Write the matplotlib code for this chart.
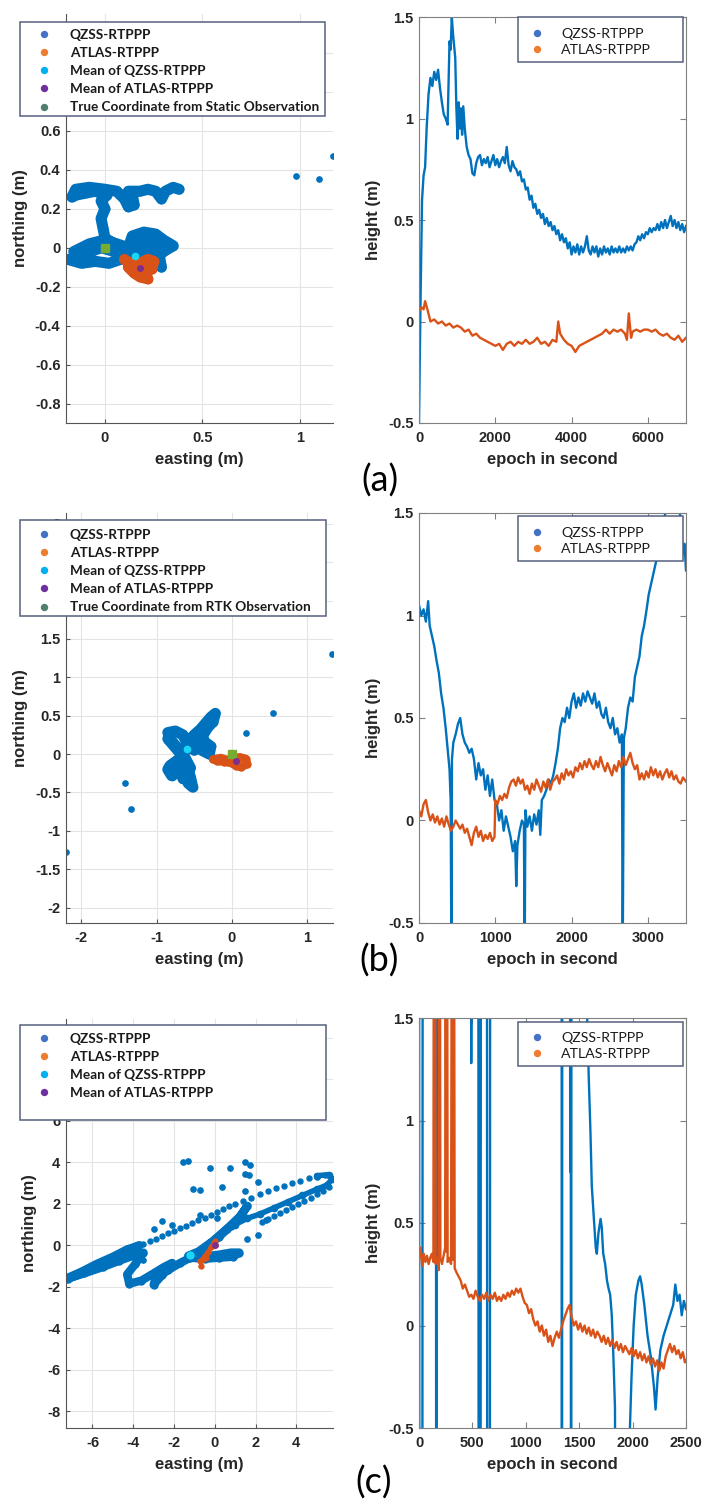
import numpy as np
import matplotlib
matplotlib.use('Agg')
import matplotlib.pyplot as plt
from matplotlib.lines import Line2D
from matplotlib.patches import Rectangle

plt.rcParams['font.family'] = ['Liberation Sans', 'DejaVu Sans']

W, H = 706, 1500
BLUE = '#0072BD'
ORANGE = '#D95319'
CYAN = '#19D8F7'
PURPLE = '#7E2F8E'
GREEN = '#77AC30'

# ---------------- panel (a) ----------------
# horizontal scatter (easting, northing)
a_qzss_e = [-0.19, -0.12, -0.05, 0.02, 0.08, 0.05, -0.02, -0.10, -0.16, -0.08, 0.00, 0.06, 0.12, 0.14, 0.20,
            0.26, 0.30, 0.35, 0.30, 0.24, 0.18, 0.16, 0.22, 0.28, 0.29, 0.24, 0.18, 0.12, 0.06, 0.00,
            -0.01, -0.02, 0.00, -0.02, 0.01, -0.05, -0.10, -0.15, -0.17, -0.15, -0.08, 0.00, 0.06, 0.10,
            0.12, 0.15, 0.14, 0.12, 0.18, 0.22, 0.26, 0.29, 0.31, 0.35, 0.38]
a_qzss_n = [-0.06, -0.08, -0.07, -0.08, -0.06, -0.02, 0.00, -0.03, -0.02, 0.02, 0.04, 0.02, 0.00, 0.06, 0.08,
            0.07, 0.04, 0.01, -0.02, 0.02, 0.03, -0.02, -0.03, -0.05, -0.10, -0.06, -0.04, -0.03, 0.01, 0.05,
            0.10, 0.15, 0.20, 0.24, 0.27, 0.29, 0.28, 0.27, 0.26, 0.30, 0.31, 0.30, 0.29, 0.25,
            0.21, 0.22, 0.27, 0.29, 0.29, 0.30, 0.29, 0.25, 0.29, 0.31, 0.30]
a_out_e = [0.98, 1.10, 1.17]
a_out_n = [0.37, 0.355, 0.47]
a_atlas_e = [0.10, 0.14, 0.18, 0.22, 0.25, 0.24, 0.20, 0.22, 0.18, 0.15, 0.12, 0.16, 0.20, 0.17, 0.13]
a_atlas_n = [-0.06, -0.09, -0.08, -0.06, -0.07, -0.11, -0.12, -0.16, -0.15, -0.13, -0.10, -0.10, -0.09,
             -0.12, -0.08]
a_mean_qzss = (0.155, -0.04)
a_mean_atlas = (0.18, -0.105)
a_true = (0.0, 0.0)

# height time series
a_qzss_t = [0, 40, 80, 120, 160, 200, 250, 300, 350, 400, 450, 500, 550, 600, 650, 700, 750, 800, 830, 860,
            890, 920, 950, 980, 1010, 1040, 1070, 1100, 1130, 1160, 1200,
            1250, 1300, 1350, 1400, 1450, 1500, 1550, 1600, 1650, 1700, 1750, 1800, 1850, 1900, 1950, 2000,
            2050, 2100, 2150, 2200, 2250, 2300, 2350, 2400, 2450, 2500, 2550, 2600, 2650, 2700, 2750, 2800,
            2850, 2900, 2950, 3000, 3050, 3100, 3150, 3200, 3250, 3300, 3350, 3400, 3450, 3500, 3550, 3600,
            3650, 3700, 3750, 3800, 3850, 3900, 3950, 4000, 4050, 4100, 4150, 4200, 4250, 4300, 4350, 4400,
            4450, 4500, 4550, 4600, 4650, 4700, 4750, 4800, 4850, 4900, 4950, 5000, 5050, 5100, 5150, 5200,
            5250, 5300, 5350, 5400, 5450, 5500, 5550, 5600, 5650, 5700, 5750, 5800, 5850, 5900, 5950, 6000,
            6050, 6100, 6150, 6200, 6250, 6300, 6350, 6400, 6450, 6500, 6550, 6600, 6650, 6700, 6750, 6800,
            6850, 6900, 6950, 7000]
a_qzss_h = [-0.5, 0.1, 0.6, 0.72, 0.76, 0.95, 1.12, 1.2, 1.16, 1.23, 1.19, 1.24, 1.15, 1.08, 1.02, 1.0, 0.97,
            1.38, 1.34, 1.5, 1.42, 1.36, 1.3, 1.05, 0.9, 1.08, 0.95, 1.05, 0.92, 1.06, 0.95,
            0.86, 0.82, 0.8, 0.73, 0.72, 0.78, 0.81, 0.82, 0.77, 0.8, 0.78, 0.81, 0.76, 0.79, 0.82, 0.77,
            0.8, 0.76, 0.79, 0.81, 0.78, 0.86, 0.77, 0.74, 0.79, 0.76, 0.75, 0.72, 0.74, 0.69, 0.7, 0.65,
            0.66, 0.6, 0.62, 0.56, 0.58, 0.53, 0.55, 0.51, 0.53, 0.48, 0.51, 0.47, 0.49, 0.45, 0.47, 0.43,
            0.45, 0.4, 0.43, 0.39, 0.41, 0.36, 0.39, 0.33, 0.37, 0.34, 0.38, 0.33, 0.37, 0.34, 0.37, 0.42,
            0.35, 0.33, 0.37, 0.34, 0.37, 0.32, 0.36, 0.33, 0.37, 0.34, 0.36, 0.33, 0.37, 0.34, 0.36, 0.34,
            0.37, 0.34, 0.36, 0.34, 0.37, 0.35, 0.37, 0.35, 0.38, 0.39, 0.42, 0.4, 0.43, 0.41, 0.44, 0.43,
            0.46, 0.44, 0.46, 0.45, 0.48, 0.45, 0.49, 0.46, 0.5, 0.46, 0.49, 0.52, 0.47, 0.5, 0.46, 0.49,
            0.45, 0.48, 0.44, 0.47]
a_atlas_t = [0, 60, 120, 160, 220, 300, 400, 500, 600, 700, 800, 900, 1000, 1100, 1200, 1300, 1400, 1500,
             1600, 1700, 1800, 1900, 2000, 2100, 2200, 2300, 2400, 2500, 2600, 2700, 2800, 2900, 3000, 3100,
             3200, 3300, 3400, 3500, 3600, 3650, 3700, 3800, 3900, 4000, 4100, 4200, 4300, 4400, 4500, 4600,
             4700, 4800, 4900, 5000, 5100, 5200, 5300, 5400, 5450, 5500, 5560, 5600, 5700, 5800, 5900, 6000,
             6100, 6200, 6300, 6400, 6500, 6600, 6700, 6800, 6900, 7000]
a_atlas_h = [0.05, 0.07, 0.06, 0.1, 0.06, 0.0, 0.01, -0.01, 0.0, -0.02, -0.01, -0.03, -0.02, -0.03, -0.05,
             -0.04, -0.07, -0.06, -0.08, -0.09, -0.1, -0.11, -0.12, -0.11, -0.14, -0.11, -0.1, -0.12, -0.1,
             -0.11, -0.09, -0.11, -0.1, -0.08, -0.11, -0.1, -0.12, -0.09, -0.1, 0.0, -0.06, -0.09, -0.11,
             -0.12, -0.15, -0.12, -0.11, -0.1, -0.09, -0.08, -0.07, -0.06, -0.04, -0.06, -0.04, -0.05, -0.04,
             -0.06, -0.09, 0.04, -0.08, -0.05, -0.04, -0.05, -0.04, -0.04, -0.05, -0.04, -0.06, -0.07, -0.06,
             -0.08, -0.09, -0.07, -0.1, -0.08]

# ---------------- panel (b) ----------------
b_qzss_e = [-0.85, -0.75, -0.65, -0.60, -0.50, -0.42, -0.35, -0.28, -0.22, -0.25, -0.32, -0.40, -0.35, -0.28,
            -0.30, -0.40, -0.45, -0.50, -0.55, -0.62, -0.68, -0.75, -0.82, -0.85, -0.80, -0.75, -0.72, -0.68,
            -0.65, -0.60, -0.58, -0.52, -0.55, -0.60, -0.70, -0.78, -0.85, -0.72, -0.62, -0.55, -0.62, -0.72]
b_qzss_n = [0.28, 0.30, 0.25, 0.15, 0.25, 0.32, 0.40, 0.48, 0.53, 0.42, 0.35, 0.22, 0.15, 0.10,
            0.00, 0.05, 0.15, 0.05, 0.10, 0.05, -0.05, -0.10, -0.15, -0.20, -0.28, -0.25, -0.10, -0.20,
            -0.32, -0.28, -0.38, -0.43, -0.30, -0.15, 0.05, 0.15, 0.20, 0.05, -0.05, -0.18, -0.25, -0.15]
b_out_e = [1.33, 0.55, 0.18, -1.42, -1.34, -2.2]
b_out_n = [1.31, 0.53, 0.27, -0.38, -0.72, -1.28]
b_atlas_e = [-0.25, -0.15, -0.05, 0.0, 0.05, 0.10, 0.18, 0.20, 0.12, 0.05, 0.0, -0.10, -0.20]
b_atlas_n = [-0.07, -0.05, -0.08, -0.05, -0.10, -0.04, -0.06, -0.13, -0.17, -0.15, -0.12, -0.10, -0.09]
b_mean_qzss = (-0.6, 0.06)
b_mean_atlas = (0.05, -0.09)
b_true = (0.0, 0.0)

b_qzss_t = [0, 30, 60, 90, 120, 140, 170, 200, 230, 260, 290, 320, 350, 380, 400, 415, 425, 432, 450, 480,
            510, 540, 570, 600, 630, 660, 690, 720, 750, 780, 810, 840, 870, 900, 930, 960, 990, 1020, 1050,
            1080, 1110, 1140, 1170, 1200, 1230, 1260, 1275, 1290, 1320, 1350, 1375, 1385, 1395, 1420, 1450,
            1480, 1510, 1540, 1570, 1590, 1610, 1640, 1670, 1700, 1730, 1760, 1790, 1820, 1850, 1880, 1910,
            1940, 1970, 2000, 2030, 2060, 2090, 2120, 2150, 2180, 2210, 2240, 2270, 2300, 2330, 2360, 2390,
            2420, 2450, 2480, 2510, 2540, 2570, 2600, 2630, 2660, 2670, 2685, 2710, 2740, 2770, 2800, 2830,
            2860, 2890, 2920, 2950, 2980, 3010, 3040, 3070, 3100, 3130, 3160, 3190, 3220, 3250, 3300, 3350,
            3400, 3430, 3460, 3480, 3500]
b_qzss_h = [1.05, 1.0, 1.03, 0.97, 1.07, 0.95, 0.9, 0.85, 0.78, 0.72, 0.62, 0.55, 0.45, 0.33, 0.25, 0.1, -0.7,
            0.3, 0.38, 0.42, 0.47, 0.5, 0.42, 0.38, 0.36, 0.33, 0.35, 0.3, 0.2, 0.28, 0.22, 0.25, 0.15, 0.22,
            0.12, 0.2, 0.1, 0.08, 0.0, 0.05, -0.05, 0.02, -0.03, -0.08, -0.15, -0.1, -0.32, -0.12, -0.05, 0.0,
            -0.02, -0.7, 0.05, -0.03, 0.02, -0.05, 0.03, -0.02, 0.05, -0.07, 0.1, 0.12, 0.15, 0.2, 0.18, 0.22,
            0.28, 0.35, 0.45, 0.5, 0.48, 0.55, 0.5, 0.58, 0.62, 0.55, 0.6, 0.56, 0.62, 0.58, 0.63, 0.6, 0.57,
            0.62, 0.55, 0.58, 0.52, 0.5, 0.55, 0.48, 0.45, 0.5, 0.42, 0.45, 0.38, 0.42, -0.7, 0.4, 0.45, 0.55,
            0.6, 0.58, 0.7, 0.75, 0.8, 0.9, 0.95, 1.02, 1.1, 1.15, 1.2, 1.25, 1.3, 1.35, 1.4, 1.48, 1.55, 1.6,
            1.55, 1.6, 1.45, 1.3, 1.35, 1.22]
b_atlas_t = [0, 30, 60, 90, 120, 150, 180, 210, 240, 270, 300, 330, 360, 390, 420, 450, 480, 510, 540, 570,
             600, 630, 660, 690, 720, 750, 780, 810, 840, 870, 900, 930, 960, 990, 1000, 1030, 1060, 1090,
             1120, 1150, 1180, 1210, 1240, 1270, 1300, 1330, 1360, 1390, 1420, 1450, 1480, 1510, 1540, 1570,
             1600, 1630, 1660, 1690, 1720, 1750, 1780, 1810, 1840, 1870, 1900, 1930, 1960, 1990, 2020, 2050,
             2080, 2110, 2140, 2170, 2200, 2230, 2260, 2290, 2320, 2350, 2380, 2410, 2440, 2470, 2500, 2530,
             2560, 2590, 2620, 2650, 2680, 2710, 2740, 2770, 2800, 2830, 2860, 2890, 2920, 2950, 2980, 3010,
             3040, 3070, 3100, 3130, 3160, 3190, 3220, 3250, 3280, 3310, 3340, 3370, 3400, 3430, 3460, 3500]
b_atlas_h = [0.05, 0.02, 0.08, 0.1, 0.04, 0.0, 0.03, -0.01, 0.02, -0.02, 0.01, -0.03, 0.02, -0.02, -0.05,
             -0.03, 0.0, -0.02, -0.04, -0.02, -0.06, -0.04, -0.08, -0.12, -0.06, -0.03, -0.08, -0.05, -0.1,
             -0.07, -0.09, -0.06, -0.1, -0.08, 0.1, 0.08, 0.12, 0.1, 0.13, 0.11, 0.16, 0.19, 0.2, 0.17, 0.21,
             0.18, 0.2, 0.15, 0.17, 0.13, 0.18, 0.15, 0.2, 0.17, 0.14, 0.19, 0.16, 0.2, 0.15, 0.19, 0.2, 0.22,
             0.18, 0.23, 0.2, 0.25, 0.22, 0.24, 0.21, 0.26, 0.24, 0.28, 0.25, 0.29, 0.26, 0.3, 0.27, 0.25,
             0.29, 0.26, 0.31, 0.27, 0.24, 0.28, 0.25, 0.22, 0.27, 0.24, 0.29, 0.26, 0.31, 0.27, 0.3, 0.33,
             0.28, 0.25, 0.27, 0.2, 0.23, 0.2, 0.24, 0.21, 0.26, 0.22, 0.25, 0.21, 0.24, 0.2, 0.23, 0.25,
             0.21, 0.24, 0.2, 0.22, 0.19, 0.18, 0.21, 0.19]

# ---------------- panel (c) ----------------
c_track_e = [-7.3, -6.6, -5.8, -5.0, -4.3, -3.7, -4.4, -5.2, -6.0, -6.8, -7.2, -6.4, -5.5, -4.7, -4.0, -3.5,
             -3.9, -4.3, -4.2, -3.6, -3.0, -2.5, -2.1, -2.6, -3.0, -2.9, -2.3, -1.7, -1.1, -0.5, 0.2, 0.8,
             1.3, 1.6, 1.2, 0.6, -0.1, -0.8, -1.3, -0.6, 0.2, 0.8, 1.2, 0.9, 0.2, -0.5, -1.2]
c_track_n = [-1.6, -1.3, -0.9, -0.55, -0.2, 0.0, -0.35, -0.75, -1.1, -1.45, -1.6, -1.35, -1.05, -0.75, -0.5,
             -0.35, -0.9, -1.4, -1.85, -1.7, -1.35, -1.05, -0.85, -1.45, -1.9, -1.6, -1.2, -0.85, -0.55,
             -0.15, 0.4, 0.95, 1.45, 1.9, 1.35, 0.8, 0.2, -0.3, -0.5, -0.55, -0.45, -0.35, -0.35, -0.55,
             -0.6, -0.65, -0.6]
c_loop_e = [1.0, 1.6, 2.2, 2.9, 3.6, 4.3, 5.0, 5.5, 5.77, 5.6, 5.0]
c_loop_n = [1.0, 1.3, 1.5, 1.8, 2.1, 2.4, 2.7, 2.9, 3.2, 3.4, 3.35]
c_dots_e = [-3.5, -3.2, -2.9, -2.6, -2.3, -2.0, -1.7, -1.4, -1.1, -0.8, -0.5, -0.2, 0.1, 0.4, 0.7, 1.0,
            1.4, 1.8, 2.2, 2.6, 3.0, 3.4, 3.8, 4.2, 4.6, 5.0, 5.4,
            2.3, 2.6, 2.9, 3.2, 3.5, 3.8, 4.1, 4.4, 4.7, 5.0, 5.3, 5.6]
c_dots_n = [0.05, 0.2, 0.32, 0.45, 0.58, 0.7, 0.82, 0.95, 1.08, 1.2, 1.33, 1.47, 1.6, 1.75, 1.88, 2.0,
            2.15, 2.3, 2.45, 2.6, 2.75, 2.88, 3.0, 3.12, 3.22, 3.3, 3.38,
            1.1, 1.25, 1.4, 1.55, 1.7, 1.85, 2.0, 2.15, 2.3, 2.45, 2.6, 2.8]
c_out_e = [-1.55, -1.3, -1.07, -0.75, 0.37, -0.24, 0.73, 1.5, 1.75, 1.5, 1.7, 2.1, 1.5, -2.6, -2.97, -3.5,
           2.1, 2.5, 1.6, -0.75, 0.1, -2.1]
c_out_n = [4.0, 4.05, 2.7, 2.65, 2.8, 3.7, 3.7, 4.0, 3.85, 3.45, 3.4, 3.05, 2.6, 1.15, 0.8, -0.7,
           0.5, 1.2, 0.3, 1.45, 1.3, 1.0]
c_atlas_e = [-0.7, -0.65, -0.5, -0.35, -0.2, -0.05, 0.0, -0.1, -0.45, -0.75]
c_atlas_n = [-1.0, -0.7, -0.5, -0.3, -0.1, 0.1, 0.2, 0.0, -0.6, -0.75]
c_mean_qzss = (-1.22, -0.45)
c_mean_atlas = (0.0, 0.0)

# values far outside the plotted range produce the vertical spikes
c_qzss_t = [0, 5, 30, 35, 158, 162, 166, 485, 489, 493, 555, 560, 575, 580, 636, 640, 662, 667, 1335, 1338,
            1342, 1412, 1416, 1420, 1424, 1428, 1565, 1575, 1590, 1605, 1618, 1640, 1655, 1665, 1680, 1700,
            1711, 1725, 1743, 1760, 1775, 1790, 1805, 1820, 1835, 1850, 1960, 1975, 1990, 2010, 2030, 2055,
            2070, 2085, 2110, 2140, 2170, 2200, 2215, 2235, 2260, 2290, 2320, 2350, 2380, 2400, 2420, 2440,
            2460, 2480, 2500]
c_qzss_h = [3, -3, -3, 3, 3, -3, 3, 3, 1.28, 3, 3, -3, -3, 3, 3, -3, -3, 3, 3, -3,
            3, 3, 0.75, 3, -3, 3, 3, 1.5, 1.2, 0.95, 0.68, 0.5, 0.38, 0.35, 0.45, 0.52,
            0.48, 0.35, 0.3, 0.22, 0.18, 0.15, 0.05, -0.15, -0.4, -3, -3, -0.5, -0.25, 0.0, 0.15, 0.22,
            0.24, 0.2, 0.1, -0.05, -0.15, -0.3, -0.41, -0.25, -0.12, -0.05, 0.0, 0.05, 0.1, 0.2, 0.12, 0.15,
            0.05, 0.12, 0.08]
c_atlas_t = [0, 15, 30, 45, 60, 75, 90, 105, 120, 135, 140, 145, 150, 156, 170, 185, 195, 200, 215, 230, 245,
             250, 256, 262, 268, 285, 300, 310, 318, 326, 334, 350, 370, 390, 410, 430, 450, 470, 490, 510,
             530, 550, 570, 590, 610, 630, 650, 670, 690, 710, 730, 750, 770, 790, 810, 830, 850, 870, 890,
             910, 930, 950, 970, 990, 1010, 1030, 1050, 1070, 1090, 1110, 1130, 1150, 1170, 1190, 1210, 1230,
             1250, 1270, 1290, 1310, 1330, 1350, 1370, 1390, 1410, 1430, 1450, 1470, 1490, 1510, 1530, 1550,
             1570, 1590, 1610, 1630, 1650, 1670, 1690, 1710, 1730, 1750, 1770, 1790, 1810, 1830, 1850, 1870,
             1890, 1910, 1930, 1950, 1970, 1990, 2010, 2030, 2050, 2070, 2090, 2110, 2130, 2150, 2170, 2190,
             2210, 2230, 2250, 2270, 2290, 2310, 2330, 2350, 2370, 2390, 2410, 2430, 2450, 2470, 2490, 2500]
c_atlas_h = [0.33, 0.38, 0.29, 0.35, 0.31, 0.34, 0.3, 0.33, 0.35, 0.31, 3, 0.32, 3, 0.3, 0.33, 0.27, 3, 0.33,
             0.3, 0.34, 0.38, 3, 0.36, 3, 0.31, 0.33, 0.3, 3, 0.32, 3, 0.28, 0.26, 0.24, 0.22, 0.18, 0.2,
             0.17, 0.14, 0.15, 0.13, 0.17, 0.14, 0.12, 0.15, 0.13, 0.16, 0.12, 0.15, 0.13, 0.16, 0.12, 0.14,
             0.12, 0.15, 0.13, 0.16, 0.14, 0.17, 0.15, 0.18, 0.16, 0.18, 0.14, 0.11, 0.1, 0.06, 0.08, 0.03,
             0.0, 0.02, -0.03, 0.0, -0.05, -0.02, -0.08, -0.05, -0.1, -0.06, -0.03, -0.06, -0.02, 0.02, 0.05,
             0.08, 0.1, 0.04, 0.0, 0.02, -0.02, 0.01, -0.03, 0.0, -0.04, -0.01, -0.05, -0.02, -0.06, -0.03,
             -0.05, -0.08, -0.05, -0.09, -0.06, -0.1, -0.07, -0.11, -0.08, -0.12, -0.09, -0.13, -0.1, -0.12,
             -0.14, -0.11, -0.15, -0.12, -0.16, -0.13, -0.17, -0.14, -0.18, -0.15, -0.19, -0.16, -0.2, -0.17,
             -0.22, -0.18, -0.21, -0.15, -0.12, -0.09, -0.13, -0.1, -0.14, -0.12, -0.16, -0.13, -0.18, -0.17]

leg_left = ['QZSS-RTPPP', 'ATLAS-RTPPP', 'Mean of QZSS-RTPPP', 'Mean of ATLAS-RTPPP']
leg_true_a = 'True Coordinate from Static Observation'
leg_true_b = 'True Coordinate from RTK Observation'
leg_right = ['QZSS-RTPPP', 'ATLAS-RTPPP']
leg_colors = ['#4472C4', '#ED7D31', '#00B0F0', '#7030A0', '#4F7F6F']

fig = plt.figure(figsize=(W / 100, H / 100), dpi=100)


def box(x0, y0, x1, y1):
    return [x0 / W, 1 - y1 / H, (x1 - x0) / W, (y1 - y0) / H]


def style_left(ax, xlim, ylim, xt, yt):
    ax.set_xlim(xlim)
    ax.set_ylim(ylim)
    ax.set_xticks(xt)
    ax.set_yticks(yt)
    ax.set_xticklabels([('%g' % v) for v in xt])
    ax.set_yticklabels([('%g' % v) for v in yt])
    ax.grid(True, color='#e4e4e4', lw=0.8)
    ax.set_axisbelow(True)
    for s in ['top', 'right']:
        ax.spines[s].set_visible(False)
    for s in ['left', 'bottom']:
        ax.spines[s].set_color('#555555')
    ax.tick_params(direction='in', length=3, color='#555555', labelsize=10.5, width=0.8)
    ax.tick_params(axis='x', pad=6)
    ax.tick_params(axis='y', pad=4)
    for lb in ax.get_xticklabels() + ax.get_yticklabels():
        lb.set_fontweight('bold')
        lb.set_color('#262626')
    ax.set_xlabel('easting (m)', fontsize=12, fontweight='bold', color='#262626', labelpad=5)
    ax.set_ylabel('northing (m)', fontsize=12, fontweight='bold', color='#262626', labelpad=5)


def style_right(ax, xmax, xt):
    ax.set_xlim(0, xmax)
    ax.set_ylim(-0.5, 1.5)
    ax.set_xticks(xt)
    ax.set_yticks([-0.5, 0, 0.5, 1, 1.5])
    ax.set_xticklabels([('%g' % v) for v in xt])
    ax.set_yticklabels(['-0.5', '0', '0.5', '1', '1.5'])
    for s in ax.spines.values():
        s.set_color('#808080')
    ax.tick_params(direction='in', length=4, color='#808080', labelsize=10.5, top=True, right=True, width=0.8)
    ax.tick_params(axis='x', pad=6)
    ax.tick_params(axis='y', pad=4)
    for lb in ax.get_xticklabels() + ax.get_yticklabels():
        lb.set_fontweight('bold')
        lb.set_color('#262626')
    ax.set_xlabel('epoch in second', fontsize=12, fontweight='bold', color='#262626', labelpad=5)
    ax.set_ylabel('height (m)', fontsize=12, fontweight='bold', color='#262626', labelpad=5)


def legend(labels, colors, x0, y0, x1, y1, mx, ty, bold, size, spacing, drop):
    rect = Rectangle((x0 / W, 1 - y1 / H), (x1 - x0) / W, (y1 - y0) / H, transform=fig.transFigure,
                     facecolor='white', edgecolor='#55607f', lw=1.1, zorder=4)
    fig.add_artist(rect)
    hs = [Line2D([], [], ls='none', marker='o', ms=4.3, color=c) for c in colors]
    fs_px = size * 100 / 72
    fig.legend(hs, labels, loc='upper left',
               bbox_to_anchor=((mx - 0.5 * fs_px) / W, 1 - (ty - 0.45 * fs_px + drop) / H),
               bbox_transform=fig.transFigure, frameon=False, borderpad=0, borderaxespad=0,
               handlelength=1.0, handletextpad=(70 - mx - 0.5 * fs_px) / fs_px if bold else 1.2,
               labelspacing=spacing,
               prop=dict(family=['Lato', 'DejaVu Sans'], weight='bold' if bold else 'normal', size=size),
               labelcolor='#1a1a1a')


def panel_label(txt, x, y):
    fig.text(x / W, 1 - y / H, txt, fontsize=26, family=['Lato', 'DejaVu Sans'], ha='center', va='center')


blob = dict(solid_capstyle='round', solid_joinstyle='round')

# ---------- (a) ----------
ax = fig.add_axes(box(66, 14, 333, 423))
ax.plot(a_qzss_e, a_qzss_n, '-o', color=BLUE, lw=8, ms=6, **blob)
ax.plot(a_out_e, a_out_n, 'o', color=BLUE, ms=3.8)
ax.plot(a_atlas_e, a_atlas_n, '-o', color=ORANGE, lw=8, ms=6, **blob)
ax.plot(*a_mean_qzss, 'o', color=CYAN, ms=4.5)
ax.plot(*a_mean_atlas, 'o', color=PURPLE, ms=4)
ax.plot(*a_true, 's', color=GREEN, ms=6)
style_left(ax, (-0.2, 1.17), (-0.9, 1.2), [0, 0.5, 1], [-0.8, -0.6, -0.4, -0.2, 0, 0.2, 0.4, 0.6, 0.8, 1.0])
legend(leg_left + [leg_true_a], leg_colors, 20, 22, 325, 116, 44, 33, True, 9.8, 0.45, 2)

ax = fig.add_axes(box(419, 17, 686, 423))
ax.plot(a_qzss_t, a_qzss_h, color=BLUE, lw=1.7)
ax.plot(a_atlas_t, a_atlas_h, color=ORANGE, lw=1.7)
style_right(ax, 7000, [0, 2000, 4000, 6000])
legend(leg_right, leg_colors[:2], 518, 17, 683, 62, 537, 29, False, 10.2, 0.3, 5)
panel_label('(a)', 380, 481)

# ---------- (b) ----------
ax = fig.add_axes(box(66, 513, 333, 923))
ax.plot(b_qzss_e, b_qzss_n, '-o', color=BLUE, lw=8, ms=6, **blob)
ax.plot(b_out_e, b_out_n, 'o', color=BLUE, ms=3.8)
ax.plot(b_atlas_e, b_atlas_n, '-o', color=ORANGE, lw=6, ms=5, **blob)
ax.plot(*b_mean_qzss, 'o', color=CYAN, ms=4.5)
ax.plot(*b_true, 's', color=GREEN, ms=6)
ax.plot(*b_mean_atlas, 'o', color=PURPLE, ms=4)
style_left(ax, (-2.2, 1.34), (-2.2, 3.14), [-2, -1, 0, 1], [-2, -1.5, -1, -0.5, 0, 0.5, 1, 1.5, 2, 2.5, 3])
legend(leg_left + [leg_true_b], leg_colors, 20, 520, 326, 616, 44, 533, True, 9.8, 0.45, 2)

ax = fig.add_axes(box(419, 513, 686, 923))
ax.plot(b_qzss_t, b_qzss_h, color=BLUE, lw=1.7)
ax.plot(b_atlas_t, b_atlas_h, color=ORANGE, lw=1.7)
style_right(ax, 3500, [0, 1000, 2000, 3000])
legend(leg_right, leg_colors[:2], 518, 516, 683, 561, 537, 528, False, 10.2, 0.3, 5)
panel_label('(b)', 379, 961)

# ---------- (c) ----------
ax = fig.add_axes(box(66, 1019, 333, 1428))
ax.plot(c_track_e, c_track_n, '-o', color=BLUE, lw=6, ms=5, **blob)
ax.plot(c_loop_e, c_loop_n, '-o', color=BLUE, lw=4, ms=4.5, **blob)
ax.plot(c_dots_e, c_dots_n, 'o', color=BLUE, ms=3.6)
ax.plot(c_out_e, c_out_n, 'o', color=BLUE, ms=3.8)
ax.plot(c_atlas_e, c_atlas_n, '-o', color=ORANGE, lw=2.5, ms=3.5)
ax.plot(*c_mean_qzss, 'o', color=CYAN, ms=5)
ax.plot(*c_mean_atlas, 'o', color=PURPLE, ms=4)
style_left(ax, (-7.3, 5.8), (-8.8, 10.9), [-6, -4, -2, 0, 2, 4], [-8, -6, -4, -2, 0, 2, 4, 6, 8, 10])
legend(leg_left, leg_colors[:4], 20, 1025, 326, 1120, 44, 1037, True, 9.8, 0.45, 2)

ax = fig.add_axes(box(419, 1018, 686, 1428))
ax.plot(c_qzss_t, c_qzss_h, color=BLUE, lw=1.7)
ax.plot(c_atlas_t, c_atlas_h, color=ORANGE, lw=1.7)
style_right(ax, 2500, [0, 500, 1000, 1500, 2000, 2500])
legend(leg_right, leg_colors[:2], 518, 1022, 683, 1066, 537, 1033, False, 10.2, 0.3, 5)
panel_label('(c)', 374, 1483)

fig.savefig('out.png', dpi=100)
